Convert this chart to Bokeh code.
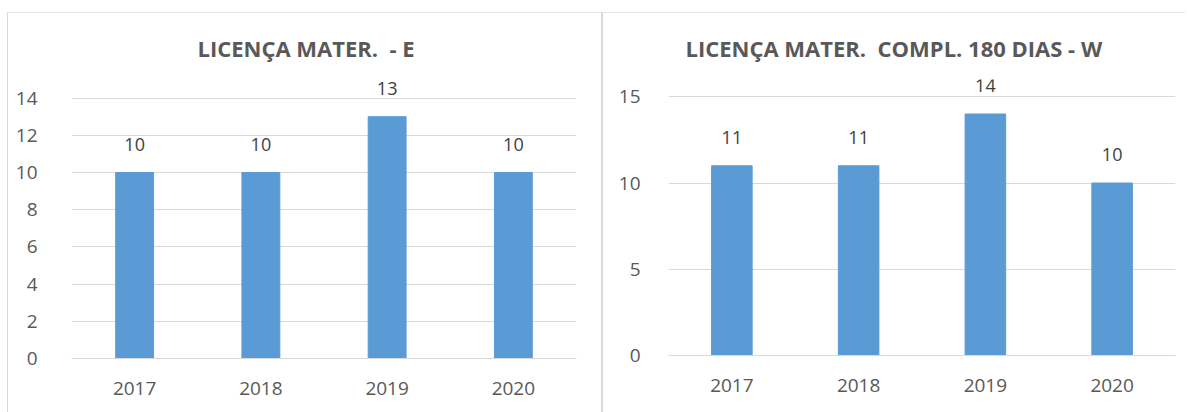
from bokeh.plotting import figure
from bokeh.models import ColumnDataSource, FixedTicker, Spacer
from bokeh.layouts import row, column
from bokeh.embed import file_html
from bokeh.resources import INLINE

years = ["2017", "2018", "2019", "2020"]
vals_e = [10, 10, 13, 10]
vals_w = [11, 11, 14, 10]
title_e = "LICENÇA MATER.\u00a0 - E"
title_w = "LICENÇA MATER.\u00a0 COMPL. 180 DIAS - W"
ticks_e = [0, 2, 4, 6, 8, 10, 12, 14]
ticks_w = [0, 5, 10, 15]

FONT = "Open Sans"
BAR = "#5b9bd5"
GRID = "#d9d9d9"
TXT = "#595959"


def make(title, vals, ticks, ymax, fw, fh, bl, br, bt, bb, bar_w, ystand, toff):
    src = ColumnDataSource(dict(x=years, top=vals, lab=[str(v) for v in vals]))
    p = figure(x_range=years, y_range=(0, ymax), width=bl + fw + br, height=bt + fh + bb,
               frame_width=fw, frame_height=fh,
               min_border_left=bl, min_border_right=br, min_border_top=bt, min_border_bottom=bb,
               output_backend="svg", toolbar_location=None, title=title)
    p.vbar(x="x", top="top", width=bar_w, source=src, color=BAR)
    p.text(x="x", y="top", text="lab", source=src, text_align="center",
           text_baseline="bottom", y_offset=-22, text_font_size="18px",
           text_color="#404040", text_font={"value": FONT})
    p.title.align = "left"
    p.title.offset = toff
    p.title.text_font = FONT
    p.title.text_font_style = "bold"
    p.title.text_font_size = "22px"
    p.title.text_color = TXT
    p.title.standoff = 34
    p.outline_line_color = None
    p.xgrid.grid_line_color = None
    p.ygrid.grid_line_color = GRID
    p.ygrid.grid_line_width = 1
    p.yaxis.ticker = FixedTicker(ticks=ticks)
    p.yaxis.axis_line_color = None
    p.yaxis.major_tick_line_color = None
    p.yaxis.minor_tick_line_color = None
    p.yaxis.major_label_text_font = FONT
    p.yaxis.major_label_text_font_size = "19px"
    p.yaxis.major_label_text_color = TXT
    p.yaxis.major_label_standoff = ystand
    p.xaxis.axis_line_color = GRID
    p.xaxis.major_tick_line_color = None
    p.xaxis.major_label_text_font = FONT
    p.xaxis.major_label_text_font_size = "19px"
    p.xaxis.major_label_text_color = TXT
    p.xaxis.major_label_standoff = 17
    p.x_range.range_padding = 0
    return p


p1 = make(title_e, vals_e, ticks_e, 15, 504, 278, 63, 26, 63, 58, 0.3, 28, 126)
p2 = make(title_w, vals_w, ticks_w, 16, 505, 275, 65, 12, 65, 59, 0.32, 22, 17)
p1.styles = {"border-left": "1px solid #d9d9d9", "border-top": "1px solid #e6e6e6"}
p2.styles = {"border-left": "2px solid #d9d9d9", "border-top": "1px solid #e6e6e6"}

layout = column(Spacer(height=12), row(Spacer(width=7), p1, p2))
open("out.html", "w").write(file_html(layout, INLINE))
